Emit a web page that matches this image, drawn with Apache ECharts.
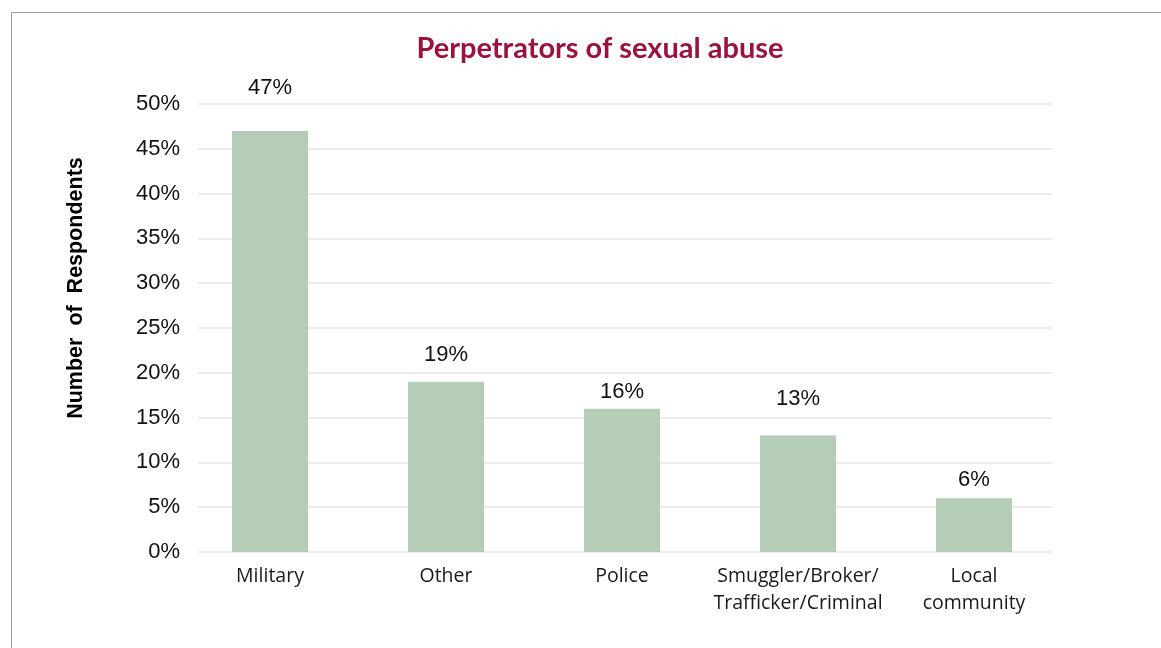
<!DOCTYPE html>
<html>
<head>
<meta charset="utf-8">
<script src="https://cdn.jsdelivr.net/npm/echarts@6/dist/echarts.min.js"></script>
<style>
html,body{margin:0;padding:0;background:#fff;}
#chart{width:1161px;height:648px;}
</style>
</head>
<body>
<div id="chart"></div>
<script>
const categories = ['Military', 'Other', 'Police', 'Smuggler/Broker/\nTrafficker/Criminal', 'Local\ncommunity'];
const values = [47, 19, 16, 13, 6];
const yTicks = [0, 5, 10, 15, 20, 25, 30, 35, 40, 45, 50];
const labelGaps = [32, 16, 6, 26, 7];

const chart = echarts.init(document.getElementById('chart'), null, {renderer: 'canvas'});
const option = {
  backgroundColor: '#ffffff',
  animation: false,
  title: {
    text: 'Perpetrators of sexual abuse',
    left: 595, top: 29, textAlign: 'center',
    textStyle: {fontFamily: 'Lato', fontWeight: 'bold', fontSize: 29, color: '#9A1340'}
  },
  graphic: [
    {type: 'rect', shape: {x: 11.5, y: 12.5, width: 1200, height: 700},
     style: {fill: 'none', stroke: '#9a9a9a', lineWidth: 1}},
    {type: 'text', x: 76, y: 288, rotation: Math.PI / 2,
     style: {text: 'Number  of  Respondents', fontFamily: 'Liberation Sans', fontWeight: 'bold',
             fontSize: 21.5, fill: '#000', align: 'center', verticalAlign: 'middle'}}
  ],
  grid: [
    {left: 198, right: 109, top: 104, bottom: 96},
    {left: 182, right: 99, top: 104, bottom: 96}
  ],
  xAxis: [
    {type: 'category', gridIndex: 0, data: categories, show: false},
    {type: 'category', gridIndex: 1, data: categories,
     axisLine: {show: false}, axisTick: {show: false},
     axisLabel: {interval: 0, margin: 11, fontFamily: 'Open Sans', fontSize: 19.5, color: '#1a1a1a', lineHeight: 27}}
  ],
  yAxis: [
    {type: 'value', gridIndex: 0, min: yTicks[0], max: yTicks[yTicks.length - 1], interval: 5,
     axisLine: {show: false}, axisTick: {show: false},
     axisLabel: {margin: 18, formatter: '{value}%', fontFamily: 'Liberation Sans', fontSize: 22, color: '#111'},
     splitLine: {lineStyle: {color: '#ececec', width: 2}}},
    {type: 'value', gridIndex: 1, min: yTicks[0], max: yTicks[yTicks.length - 1], show: false,
     splitLine: {show: false}}
  ],
  series: [{
    type: 'bar', xAxisIndex: 1, yAxisIndex: 1, barWidth: 76,
    itemStyle: {color: '#B5CCB7'},
    data: values.map((v, i) => ({
      value: v,
      label: {distance: labelGaps[i]}
    })),
    label: {show: true, position: 'top', formatter: '{c}%',
            fontFamily: 'Liberation Sans', fontSize: 22, color: '#111'}
  }]
};
chart.setOption(option);
</script>
</body>
</html>
